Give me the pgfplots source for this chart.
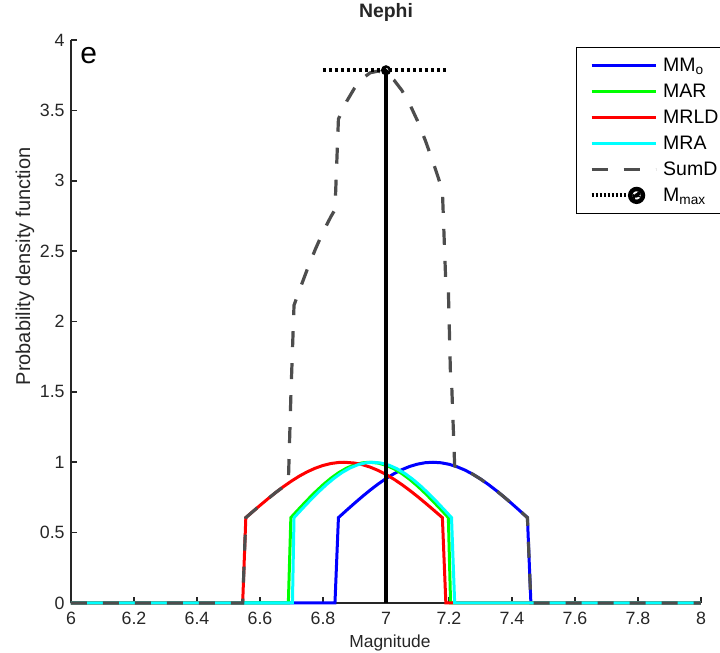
\documentclass[border=0pt]{standalone}
\usepackage{fontspec}
\setmainfont{Liberation Sans}
\usepackage{pgfplots}
\pgfplotsset{compat=1.18}
\definecolor{axcol}{RGB}{38,38,38}
\definecolor{sumcol}{RGB}{77,77,77}
\definecolor{cblue}{RGB}{0,0,255}
\definecolor{cgreen}{RGB}{0,255,0}
\definecolor{cred}{RGB}{255,0,0}
\definecolor{ccyan}{RGB}{0,255,255}
\begin{document}
\begin{tikzpicture}
\begin{axis}[
  scale only axis, width=315pt, height=281.5pt,
  at={(35.5pt,25pt)}, anchor=south west,
  xmin=6, xmax=8, ymin=0, ymax=4,
  axis x line=bottom, axis y line=left,
  axis line style={-, draw=axcol, line width=0.8pt},
  tick align=inside, major tick length=3pt,
  tick style={draw=axcol, line width=0.8pt},
  xtick={6,6.2,6.4,6.6,6.8,7,7.2,7.4,7.6,7.8,8},
  ytick={0,0.5,1,1.5,2,2.5,3,3.5,4},
  /pgf/number format/assume math mode=true,
  ticklabel style={font=\fontsize{8.9}{10}\selectfont, text=axcol},
  xticklabel style={inner sep=0pt, anchor=north, yshift=-4.25pt},
  yticklabel style={inner sep=0pt, anchor=east, xshift=-3pt},
  clip=false,
  title={\textbf{Nephi}},
  title style={at={(axis description cs:0.5,1)}, anchor=base, yshift=5.5pt, font=\fontsize{9.7}{11}\selectfont, text=axcol},
  xlabel={Magnitude},
  xlabel style={at={(axis description cs:0.5063,-0.0799)}, anchor=base, font=\fontsize{8.7}{10}\selectfont, text=axcol},
  ylabel={Probability density function},
  ylabel style={at={(axis description cs:-0.073,0.598)}, anchor=center, font=\fontsize{10}{12}\selectfont, text=axcol},
  legend cell align=left,
  legend style={at={(axis description cs:0.8016,0.9876)}, anchor=north west, draw=black, line width=0.6pt, fill=white,
    inner xsep=6.5pt, inner ysep=2.4pt, row sep=0pt, /tikz/column sep=2.8pt,
    font=\fontsize{9.75}{11}\selectfont,
    nodes={inner xsep=0pt, inner ysep=0pt, text height=9.5pt, text depth=3.5pt}},
  legend image code/.code={\draw[#1] (0pt,0pt) -- (32pt,0pt);},
]
% MMo
\addplot[cblue, line width=1.5pt] coordinates {
(6,0) (6.838,0) (6.849,0.6065) (6.875,0.659) (6.9,0.7086) (6.925,0.7567) (6.95,0.8025) (6.975,0.8452)
(7.0,0.8840) (7.025,0.9181) (7.05,0.9470) (7.075,0.9700) (7.1,0.9867) (7.125,0.9968) (7.149,1.0)
(7.175,0.9962) (7.2,0.9857) (7.225,0.9684) (7.25,0.9449) (7.275,0.9156) (7.3,0.8810) (7.325,0.8419)
(7.35,0.7990) (7.375,0.7530) (7.4,0.7047) (7.425,0.6549) (7.449,0.6065) (7.46,0) (8,0)};
\addlegendentry{MM\textsubscript{o}}
% MAR
\addplot[cgreen, line width=1.5pt] coordinates {
(6,0) (6.69,0) (6.698,0.6065) (6.725,0.6718) (6.75,0.7308) (6.775,0.7871) (6.8,0.8393) (6.825,0.8860)
(6.85,0.9261) (6.875,0.9583) (6.9,0.9817) (6.925,0.9958) (6.948,1.0) (6.975,0.9942) (7.0,0.9786)
(7.025,0.9537) (7.05,0.9201) (7.075,0.8789) (7.1,0.8312) (7.125,0.7783) (7.15,0.7215) (7.175,0.6622)
(7.198,0.6065) (7.205,0) (8,0)};
\addlegendentry{MAR}
% MRLD
\addplot[cred, line width=1.5pt] coordinates {
(6,0) (6.545,0) (6.555,0.6065) (6.575,0.6453) (6.6,0.6933) (6.625,0.7402) (6.65,0.7851) (6.675,0.8275)
(6.7,0.8665) (6.725,0.9016) (6.75,0.9321) (6.775,0.9574) (6.8,0.9772) (6.825,0.9910) (6.85,0.9985)
(6.867,1.0) (6.9,0.9944) (6.925,0.9829) (6.95,0.9652) (6.975,0.9419) (7.0,0.9131) (7.025,0.8797)
(7.05,0.8420) (7.075,0.8007) (7.1,0.7567) (7.125,0.7104) (7.15,0.6628) (7.165,0.6337) (7.179,0.6065)
(7.19,0) (8,0)};
\addlegendentry{MRLD}
% MRA
\addplot[ccyan, line width=1.5pt] coordinates {
(6,0) (6.703,0) (6.708,0.6065) (6.735,0.6718) (6.76,0.7308) (6.785,0.7871) (6.81,0.8393) (6.835,0.8860)
(6.86,0.9261) (6.885,0.9583) (6.91,0.9817) (6.935,0.9958) (6.958,1.0) (6.985,0.9942) (7.01,0.9786)
(7.035,0.9537) (7.06,0.9201) (7.085,0.8789) (7.11,0.8312) (7.135,0.7783) (7.16,0.7215) (7.185,0.6622)
(7.208,0.6065) (7.218,0) (8,0)};
\addlegendentry{MRA}
% SumD
\addplot[sumcol, line width=1.6pt, dash pattern=on 8pt off 8pt] coordinates {
(6,0) (6.545,0) (6.555,0.6065) (6.575,0.6453) (6.6,0.6933) (6.625,0.7402) (6.65,0.7851) (6.675,0.8275)
(6.69,0.8514) (6.698,1.4701) (6.708,2.1155) (6.725,2.2211) (6.75,2.3703) (6.775,2.5095) (6.8,2.6355)
(6.825,2.7450) (6.838,2.7946) (6.849,3.4387) (6.875,3.5634) (6.9,3.6582) (6.925,3.7267) (6.95,3.7672)
(6.975,3.779) (7.0,3.7617) (7.025,3.7162) (7.05,3.6436) (7.075,3.5459) (7.1,3.4256) (7.125,3.2855)
(7.15,3.1289) (7.165,3.0282) (7.179,2.9306) (7.19,2.2667) (7.198,2.224) (7.205,1.5965) (7.208,1.5873)
(7.218,0.9739) (7.25,0.9449) (7.275,0.9156) (7.3,0.8810) (7.325,0.8419) (7.35,0.7990) (7.375,0.7530)
(7.4,0.7047) (7.425,0.6549) (7.449,0.6065) (7.46,0) (8,0)};
\addlegendentry{SumD}
% Mmax vertical
\addplot[black, line width=2pt, forget plot] coordinates {(7,0) (7,3.785)};
% Mmax horizontal dotted
\addplot[black, line width=2pt, dash pattern=on 1.5pt off 1.5pt,
  legend image code/.code={
    \draw[black, line width=2pt, dash pattern=on 1pt off 1pt] (0pt,0pt) -- (18pt,0pt);
    \draw[black, line width=2.2pt, solid] (22.5pt,0pt) circle (3.2pt);
    \fill[black] (22.5pt,0pt) circle (1.1pt);
    \path (32pt,0pt);}]
  coordinates {(6.8,3.785) (7.2,3.785)};
\addlegendentry{M\textsubscript{max}}
\addplot[black, only marks, mark=o, mark size=1.9pt, line width=1.2pt, forget plot, mark options={solid, fill=white}] coordinates {(7,3.785)};
\addplot[black, only marks, mark=*, mark size=0.7pt, forget plot] coordinates {(7,3.785)};
\node[anchor=base west, inner sep=0pt, font=\fontsize{15}{18}\selectfont] at (axis cs:6.0286,3.83) {e};
\end{axis}
\pgfresetboundingbox
\path (0,0) rectangle (360pt,326.5pt);
\end{tikzpicture}
\end{document}
